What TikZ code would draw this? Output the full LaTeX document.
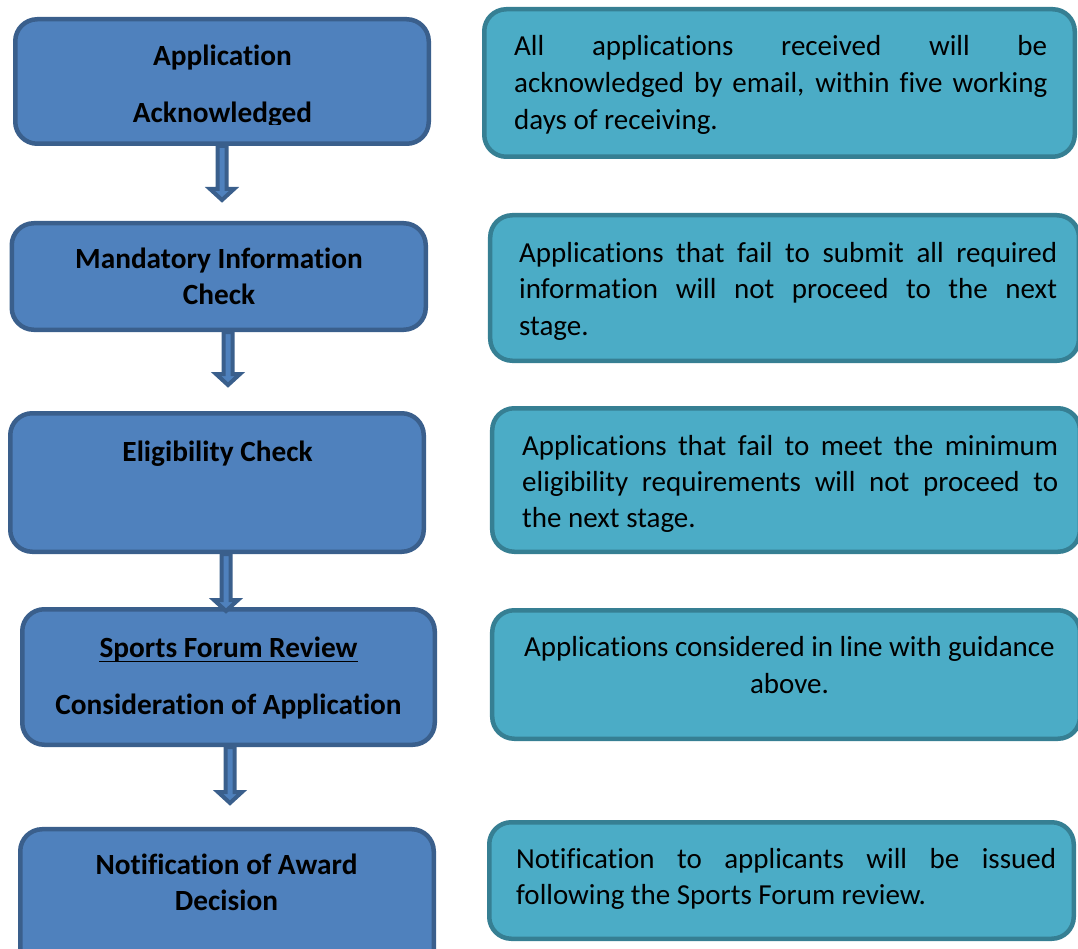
\documentclass[tikz,border=0pt]{standalone}
\usepackage{fontspec}
\setmainfont[Ligatures={NoCommon,NoContextual}]{Carlito}
\usetikzlibrary{calc}
\definecolor{lfill}{HTML}{4F81BD}
\definecolor{lline}{HTML}{3A5F8C}
\definecolor{rfill}{HTML}{4BACC6}
\definecolor{rline}{HTML}{367F93}
\tikzset{
  lbox/.style={draw=lline, fill=lfill, line width=4.5pt, rounded corners=22pt, inner sep=0pt},
  rbox/.style={draw=rline, fill=rfill, line width=4.5pt, rounded corners=22pt, inner sep=0pt},
  ltext/.style={font=\bfseries\fontsize{29.3}{36}\selectfont, inner sep=0pt, anchor=base},
  rtext/.style={font=\fontsize{29}{36}\selectfont, inner sep=0pt, anchor=base west},
  ctext/.style={font=\fontsize{29}{36}\selectfont, inner sep=0pt, anchor=base},
  blockarr/.style={draw=lline, fill=lfill, line width=4pt, line join=miter},
  uline/.style={draw=black, line width=1.8pt}
}
\newcommand{\blockarrow}[2]{%
  \draw[blockarr] let \p1=(#1), \p2=(#2) in
    (\x2-4.5pt,\y1) -- (\x2-4.5pt,\y2+13pt) -- (\x2-12pt,\y2+13pt) -- (\x2,\y2+2pt)
    -- (\x2+12pt,\y2+13pt) -- (\x2+4.5pt,\y2+13pt) -- (\x2+4.5pt,\y1) -- cycle;}
\begin{document}
\begin{tikzpicture}[x=1pt,y=-1pt]
\useasboundingbox (0,0) rectangle (1078,949);
\clip (0,0) rectangle (1078,949);

% left boxes
\node[lbox, minimum width=413.5pt, minimum height=124.5pt] (b1) at (222,81.5) {};
\node[lbox, minimum width=414pt, minimum height=106.5pt] (b2) at (218.75,276.5) {};
\node[lbox, minimum width=413.5pt, minimum height=138.5pt] (b3) at (217,482.5) {};
\node[lbox, minimum width=412.5pt, minimum height=135.5pt] (b4) at (228.5,677) {};
\node[lbox, minimum width=413.5pt, minimum height=150.75pt] (b5) at (227,904.6) {};

% right boxes
\node[rbox, minimum width=590.5pt, minimum height=147.5pt] (r1) at (779.5,83) {};
\node[rbox, minimum width=588.75pt, minimum height=145.5pt] (r2) at (784.6,288) {};
\node[rbox, minimum width=587.75pt, minimum height=143.5pt] (r3) at (786.1,480) {};
\node[rbox, minimum width=587.75pt, minimum height=128.5pt] (r4) at (786.1,674.5) {};
\node[rbox, minimum width=584.5pt, minimum height=116.5pt] (r5) at (781.5,880.5) {};

% left texts
\node[ltext] (b1a) at (222.5,66) {Application};
\begin{scope}
  \clip (0,0) rectangle (1078,125);
  \node[ltext] (b1b) at (222.5,123) {Acknowledged};
\end{scope}
\node[ltext] (b2a) at (219,269) {Mandatory Information};
\node[ltext] (b2b) at (219,305) {Check};
\node[ltext] (b3a) at (217.5,461) {Eligibility Check};
\node[ltext] (b4a) at (228.5,657) {Sports Forum Review};
\draw[uline] ($(b4a.base west)+(0,4.5)$) -- ($(b4a.base east)+(0,4.5)$);
\node[ltext] (b4b) at (228.5,714) {Consideration of Application};
\node[ltext] (b5a) at (226.5,874) {Notification of Award};
\node[ltext] (b5b) at (226.5,910) {Decision};

% right texts
\node[rtext] (r1a) at (514,56) {\makebox[533pt][s]{All applications received will be}};
\node[rtext] (r1b) at (514,93) {\makebox[533pt][s]{acknowledged by email, within five working}};
\node[rtext] (r1c) at (514,130) {days of receiving.};
\node[rtext] (r2a) at (519,263) {\makebox[538pt][s]{Applications that fail to submit all required}};
\node[rtext] (r2b) at (519,299) {\makebox[538pt][s]{information will not proceed to the next}};
\node[rtext] (r2c) at (519,335) {stage.};
\node[rtext] (r3a) at (522,455) {\makebox[536pt][s]{Applications that fail to meet the minimum}};
\node[rtext] (r3b) at (522,491) {\makebox[536pt][s]{eligibility requirements will not proceed to}};
\node[rtext] (r3c) at (522,527) {the next stage.};
\node[ctext] (r4a) at (789.5,656) {Applications considered in line with guidance};
\node[ctext] (r4b) at (789.5,693) {above.};
\node[rtext] (r5a) at (516,868) {\makebox[540pt][s]{Notification to applicants will be issued}};
\node[rtext] (r5b) at (516,904) {following the Sports Forum review.};

% arrows
\coordinate (t1) at (222,202);
\coordinate (t2) at (228,387);
\coordinate (t3) at (226,613);
\coordinate (t4) at (230,805);
\blockarrow{b1.south -| t1}{t1}
\blockarrow{b2.south -| t2}{t2}
\blockarrow{b3.south -| t3}{t3}
\blockarrow{b4.south -| t4}{t4}
\end{tikzpicture}
\end{document}
